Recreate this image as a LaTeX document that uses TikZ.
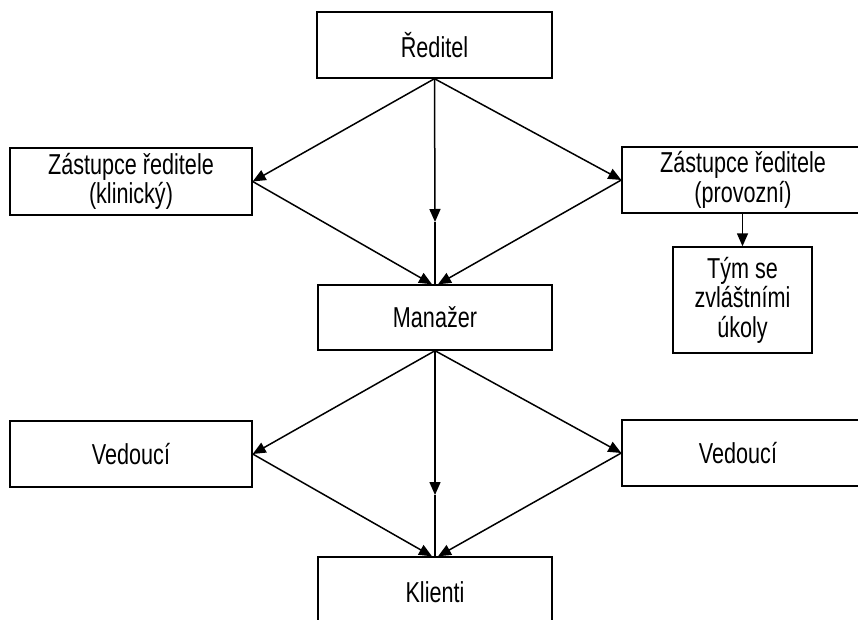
\documentclass[tikz,border=0pt]{standalone}
\usepackage{fontspec}
\setmainfont[FakeStretch=0.75]{Liberation Sans}
\usetikzlibrary{arrows.meta}
\begin{document}
\begin{tikzpicture}[x=1pt,y=-1pt,
  box/.style={draw=black,line width=1.4pt,fill=white,inner sep=0pt,align=center,
    font=\fontsize{28.8}{29.5}\selectfont},
  arr/.style={line width=1.5pt,-{Triangle[length=13pt,width=11pt]}},
  ln/.style={line width=1.5pt}]
\useasboundingbox (0,0) rectangle (858,620);
\clip (0,0) rectangle (858,620);
\fill[white] (0,0) rectangle (858,620);
% boxes
\node[box,minimum width=235pt,minimum height=66pt] (red) at (434.5,45) {Ředitel};
\node[box,minimum width=242pt,minimum height=67pt] (zk) at (131,181.5) {Zástupce ředitele\\(klinický)};
\node[box,minimum width=250pt,minimum height=66pt,
  label={[box,draw=none,fill=none,xshift=-4pt]center:Zástupce ředitele\\(provozní)}] (zp) at (747,180) {};
\node[box,minimum width=139pt,minimum height=106pt] (tym) at (742.5,300) {Tým se\\zvláštními\\úkoly};
\node[box,minimum width=234pt,minimum height=65pt] (man) at (435,317.5) {Manažer};
\node[box,minimum width=242pt,minimum height=66pt] (vl) at (131,454) {Vedoucí};
\node[box,minimum width=250pt,minimum height=66pt,
  label={[box,draw=none,fill=none,xshift=-9pt]center:Vedoucí}] (vr) at (747,453) {};
\node[box,minimum width=234pt,minimum height=90pt] (kl) at (435,602) {};
\node[box,draw=none,fill=none] (kltext) at (435,592) {Klienti};
% mid arrow coordinates
\coordinate (m1) at (435,222);
\coordinate (m2) at (435,495);
% top connectors
\draw[arr] (red.south) -- (zk.east);
\draw[arr] (red.south) -- (zp.west);
\draw[arr] (red.south) -- (m1);
\draw[ln] (m1) -- (man.north);
\draw[arr] (zk.east) -- ([xshift=-3pt]man.north);
\draw[arr] (zp.west) -- ([xshift=3pt]man.north);
\draw[arr] (zp.south -| tym.north) -- (tym.north);
% bottom connectors
\draw[arr] (man.south) -- (vl.east);
\draw[arr] (man.south) -- (vr.west);
\draw[arr] (man.south) -- (m2);
\draw[ln] (m2) -- (kl.north);
\draw[arr] (vl.east) -- ([xshift=-3pt]kl.north);
\draw[arr] (vr.west) -- ([xshift=3pt]kl.north);
\end{tikzpicture}
\end{document}
